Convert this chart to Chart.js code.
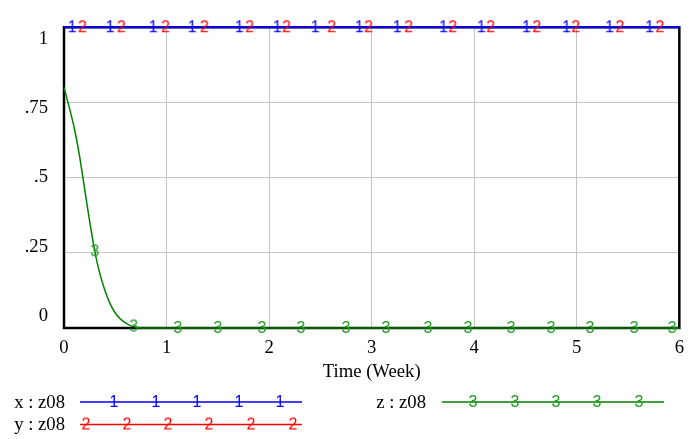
<!DOCTYPE html>
<html>
<head>
<meta charset="utf-8">
<script src="https://cdn.jsdelivr.net/npm/chart.js@4"></script>
<style>
  body { margin: 0; background: #fff; }
</style>
</head>
<body>
<canvas id="chart" width="693" height="439"></canvas>
<script>
const seriesNames = ['x : z08', 'y : z08', 'z : z08'];
const seriesDigits = ['1', '2', '3'];
const xTime = [0, 6];
const xValues = [1, 1];
const yTime = [0, 6];
const yValues = [1, 1];
const zTime = [0, 0.05, 0.1, 0.15, 0.2, 0.25, 0.3, 0.35, 0.4, 0.45, 0.5, 0.55, 0.6, 0.65, 0.7, 0.75, 1, 2, 3, 4, 5, 6];
const zValues = [0.80, 0.735, 0.665, 0.575, 0.465, 0.355, 0.255, 0.18, 0.124, 0.08, 0.05, 0.03, 0.017, 0.008, 0.003, 0, 0, 0, 0, 0, 0, 0];
// where the numbers sit along each line
const xMarkTime = [0.08, 0.45, 0.87, 1.25, 1.71, 2.08, 2.45, 2.88, 3.25, 3.70, 4.07, 4.51, 4.90, 5.32, 5.71];
const yMarkTime = [0.18, 0.56, 0.99, 1.37, 1.81, 2.17, 2.61, 2.97, 3.36, 3.79, 4.16, 4.61, 4.99, 5.42, 5.81];
const zMarkTime = [0.30, 0.68, 1.11, 1.50, 1.93, 2.31, 2.75, 3.14, 3.55, 3.94, 4.36, 4.75, 5.13, 5.56, 5.93];
const zMarkValues = [0.255, 0.005, 0, 0, 0, 0, 0, 0, 0, 0, 0, 0, 0, 0, 0];
const yTickValues = [0, 0.25, 0.5, 0.75, 1];
const xTickValues = [0, 1, 2, 3, 4, 5, 6];

const serif = 'Liberation Serif';
const lineColors = ['#0000ff', '#ff0000', '#008000'];
const digitColors = ['#0000ff', '#ff0000', '#1f9a1f'];

function digitImage(d, color) {
    const c = document.createElement('canvas');
    c.width = 14;
    c.height = 18;
    const g = c.getContext('2d');
    g.fillStyle = color;
    g.font = '16px "Liberation Sans"';
    g.textAlign = 'center';
    g.textBaseline = 'middle';
    g.fillText(d, 7, 9.5);
    return c;
}
const digitImgs = seriesDigits.map((d, i) => digitImage(d, digitColors[i]));

const toPoints = (ts, vs) => ts.map((t, i) => ({x: t, y: vs[i]}));

function markers(ts, vs, i) {
    return {
        data: toPoints(ts, vs),
        showLine: false,
        pointStyle: digitImgs[i],
        pointRadius: 5,
        clip: false
    };
}

function line(ts, vs, i, w) {
    return {
        data: toPoints(ts, vs),
        showLine: true,
        borderColor: lineColors[i],
        borderWidth: w,
        pointRadius: 0,
        cubicInterpolationMode: 'monotone',
        clip: false
    };
}

const frame = {
    id: 'frame',
    beforeDatasetsDraw(chart) {
        const a = chart.chartArea;
        const ctx = chart.ctx;
        ctx.save();
        ctx.strokeStyle = '#000';
        ctx.lineWidth = 2.5;
        ctx.strokeRect(a.left, a.top, a.right - a.left, a.bottom - a.top);
        ctx.restore();
    }
};

// legend under the axis, Vensim style
const legendBox = {
    id: 'legendBox',
    afterDraw(chart) {
        const ctx = chart.ctx;
        const rows = [
            {textX: 65, y: 402, x0: 80, x1: 302, marks: [114, 156, 197, 239, 280]},
            {textX: 65, y: 424.5, x0: 80, x1: 302, marks: [86, 127, 168, 209, 251, 293]},
            {textX: 426, y: 402, x0: 442, x1: 664, marks: [473, 515, 556, 597, 639]}
        ];
        ctx.save();
        rows.forEach((r, i) => {
            ctx.fillStyle = '#000';
            ctx.font = '18.7px "' + serif + '"';
            ctx.textAlign = 'right';
            ctx.textBaseline = 'middle';
            ctx.fillText(seriesNames[i], r.textX, r.y + 1);
            ctx.strokeStyle = lineColors[i];
            ctx.lineWidth = 1.5;
            ctx.beginPath();
            ctx.moveTo(r.x0, r.y);
            ctx.lineTo(r.x1, r.y);
            ctx.stroke();
            r.marks.forEach(mx => {
                const img = digitImgs[i];
                ctx.drawImage(img, mx - img.width / 2, r.y - img.height / 2);
            });
        });
        ctx.restore();
    }
};

new Chart(document.getElementById('chart'), {
    type: 'scatter',
    data: {
        datasets: [
            markers(xMarkTime, xMarkTime.map(() => xValues[0]), 0),
            markers(yMarkTime, yMarkTime.map(() => yValues[0]), 1),
            markers(zMarkTime, zMarkValues, 2),
            line(xTime, xValues, 0, 2),
            line(yTime, yValues, 1, 1.5),
            line(zTime, zValues, 2, 1.5)
        ]
    },
    options: {
        responsive: false,
        animation: false,
        devicePixelRatio: 1,
        layout: {padding: {top: 23, right: 8, bottom: 56, left: 0}},
        plugins: {
            legend: {display: false},
            tooltip: {enabled: false}
        },
        scales: {
            x: {
                type: 'linear',
                min: 0,
                max: 6,
                afterBuildTicks: s => { s.ticks = xTickValues.map(v => ({value: v})); },
                afterFit: s => { s.height = 55; },
                grid: {color: '#c4c4c4', lineWidth: 1, drawTicks: false},
                border: {display: false},
                ticks: {
                    color: '#000',
                    padding: 9,
                    maxRotation: 0,
                    font: {family: serif, size: 18.7}
                },
                title: {
                    display: true,
                    text: 'Time (Week)',
                    color: '#000',
                    padding: 0,
                    font: {family: serif, size: 18.7}
                }
            },
            y: {
                min: 0,
                max: 1,
                position: 'left',
                afterBuildTicks: s => { s.ticks = yTickValues.map(v => ({value: v})); },
                afterFit: s => { s.width = 0; },
                grid: {color: '#c4c4c4', lineWidth: 1, drawTicks: false},
                border: {display: false},
                ticks: {display: false}
            },
            // label axis: Vensim spaces its value labels a bit tighter than the grid
            yl: {
                min: -0.0445,
                max: 1.044,
                position: 'left',
                afterBuildTicks: s => { s.ticks = yTickValues.map(v => ({value: v})); },
                afterFit: s => { s.width = 64; },
                grid: {display: false, drawTicks: false},
                border: {display: false},
                ticks: {
                    color: '#000',
                    padding: 16,
                    font: {family: serif, size: 18.7},
                    callback: v => String(v).replace(/^0\./, '.')
                }
            }
        }
    },
    plugins: [frame, legendBox]
});
</script>
</body>
</html>
